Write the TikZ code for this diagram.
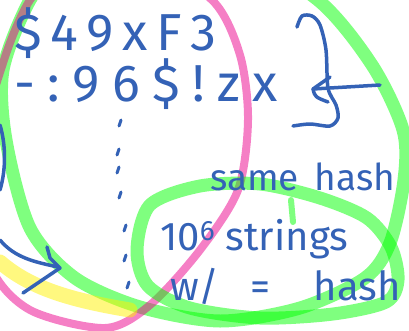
\documentclass[tikz,border=0pt]{standalone}
\usepackage{fontspec}
\setmainfont{Fira Sans}
\usepackage{xcolor}
\usetikzlibrary{arrows.meta, positioning}
\definecolor{inkblue}{HTML}{3462B6}
\tikzstyle{ink}     = [draw=inkblue, line width=3.5pt, line cap=round,
                       line join=round]
\tikzstyle{scrawl}  = [text=inkblue, inner sep=0pt, anchor=base west]
\tikzstyle{marker}  = [line width=13pt, opacity=0.5, line cap=round,
                       line join=round]
\tikzstyle{dotdash} = [ink, line width=3pt]

\begin{document}
\begin{tikzpicture}[x=1pt, y=-1pt]
  \useasboundingbox (0,0) rectangle (409,330);
  \clip (0,0) rectangle (409,330);

  % highlighter loops
  \draw[marker, draw=green] plot[smooth cycle] coordinates {
    (60,-30) (30,0) (3,70) (6,140) (30,228) (75,278) (140,307) (220,321)
    (300,308) (365,278) (390,243) (404,180) (403,130) (372,65) (318,0)
    (230,-50) (140,-55)};
  \draw[marker, draw=magenta, line width=8pt] plot[smooth cycle] coordinates {
    (60,-25) (30,0) (4,60) (-25,170) (-10,265) (30,310) (105,328) (150,305)
    (200,250) (238,190) (248,120) (240,55) (212,0) (140,-40)};
  \draw[marker, draw=green] plot[smooth cycle] coordinates {
    (150,205) (200,186) (260,184) (320,198) (367,218) (391,247) (398,280)
    (386,302) (333,314) (260,318) (190,308) (148,286) (137,250)};
  \draw[marker, draw=green, line width=6pt] (291,200) -- (293,222);
  \draw[marker, draw=yellow, line width=15pt]
    (0,262) .. controls (30,288) and (70,300) .. (130,310);

  % the two strings
  \node[scrawl] (hashA) at (14,50)
    {\fontsize{52}{52}\selectfont\addfontfeatures{LetterSpace=17}\$49xF3};
  \node[scrawl] (hashB) at (14,101)
    {\fontsize{52}{52}\selectfont\addfontfeatures{LetterSpace=24}-:96\$!zx};

  % brace and arrow
  \coordinate (arrtail) at (380,85);
  \coordinate (arrtip)  at (313,89);
  \draw[ink] plot[smooth] coordinates {
    (297,27) (302,16) (312,16) (320,25) (326,50) (328,88) (336,105)
    (338,118) (330,126) (310,124) (293,126)};
  \draw[ink] (arrtail) -- (arrtip);
  \draw[ink] (330,77) -- (arrtip) .. controls (315,97) .. (328,102);

  % dotted column
  \foreach \px/\py in {120/123, 118/152, 118/170, 120/195,
                       125/228, 125/258, 128/285}
    \draw[dotdash] (\px+1,\py-3) -- (\px-1,\py+3);

  % labels
  \node[scrawl] (same) at (210,190)
    {\fontsize{37}{37}\selectfont same\hspace{6pt} hash};
  \node[scrawl] (strs) at (160,250)
    {\fontsize{40}{40}\selectfont 10\textsuperscript{6} strings};
  \node[scrawl] (eqhash) at (170,300)
    {\fontsize{40}{40}\selectfont w/\hspace{20pt} =\hspace{33pt} hash};

  % left arrow
  \coordinate (leftin)  at (0,240);
  \coordinate (lefttip) at (58,267);
  \draw[ink] (0,125) .. controls (6,145) and (6,170) .. (0,190);
  \draw[ink] (leftin) .. controls (15,258) and (35,262) .. (lefttip);
  \draw[ink] (47,247) -- (50,258) -- (60,268) -- (23,293);

\end{tikzpicture}
\end{document}
